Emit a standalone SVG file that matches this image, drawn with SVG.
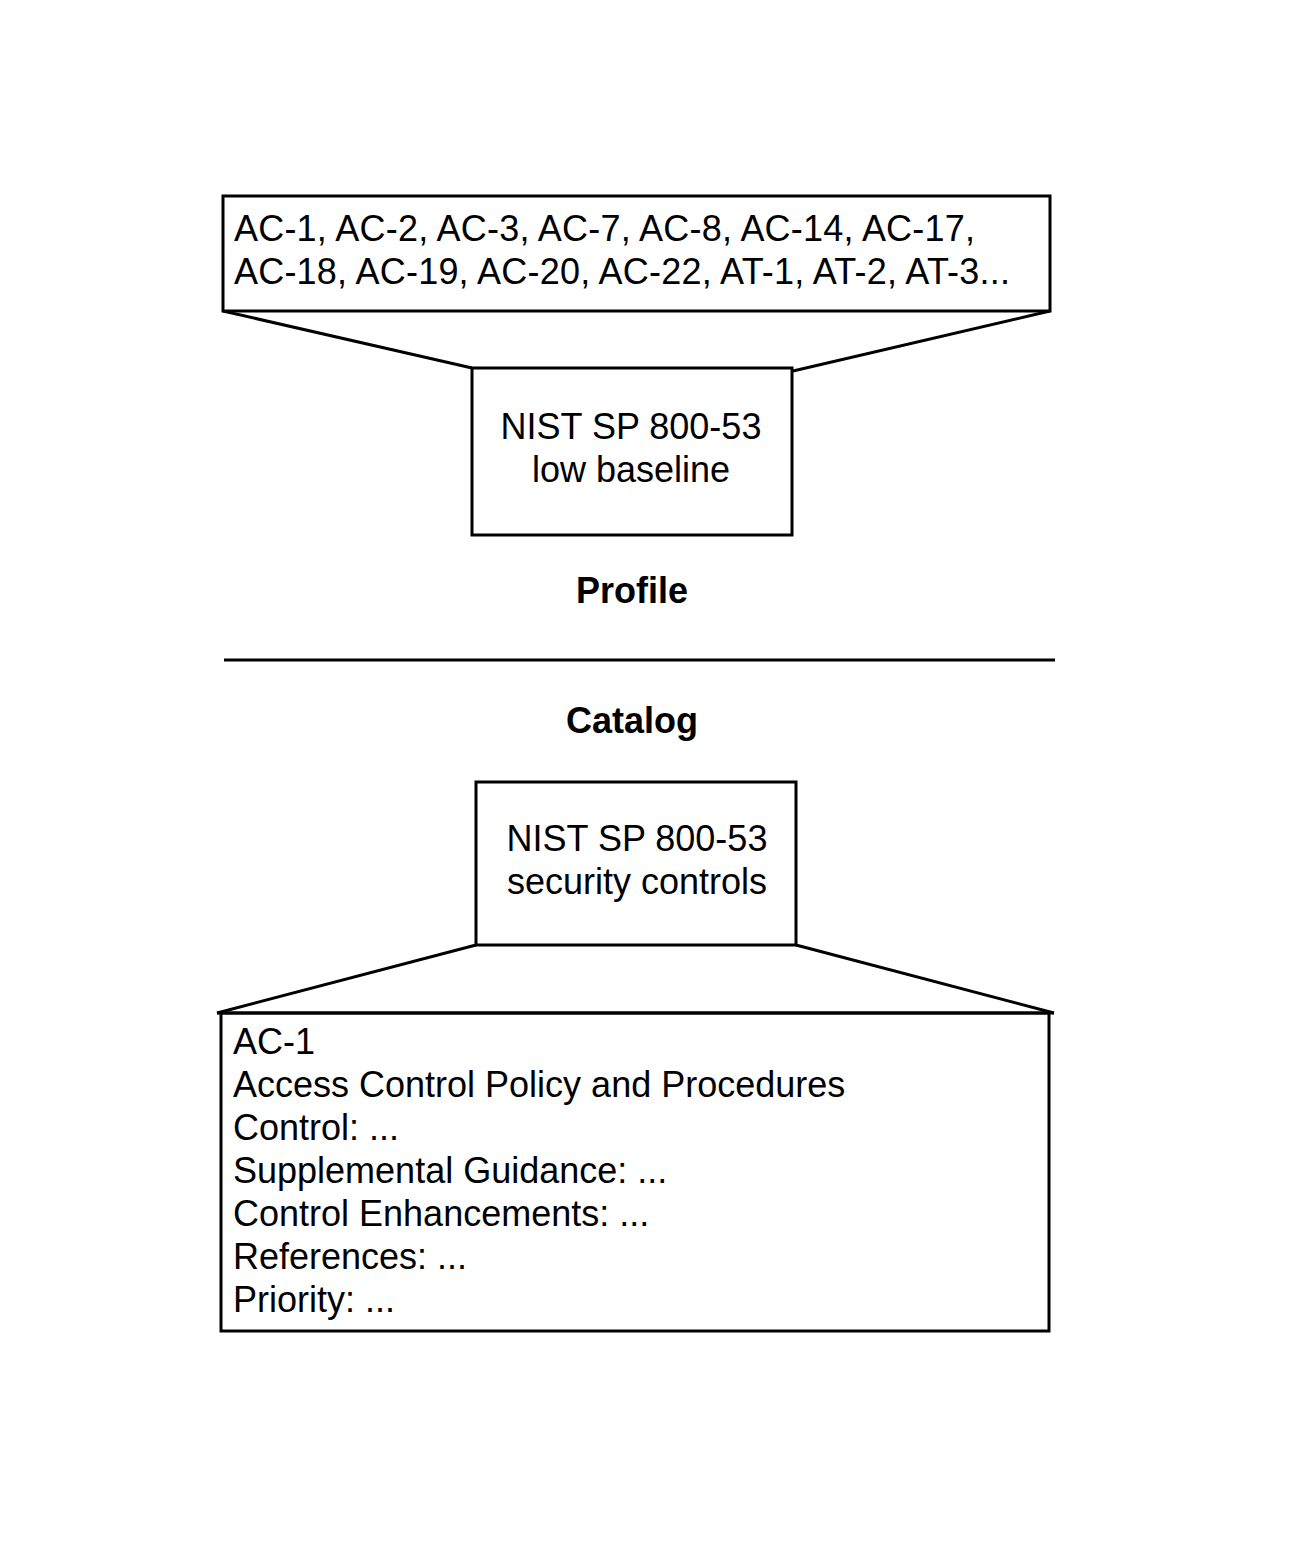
<svg xmlns="http://www.w3.org/2000/svg" width="1294" height="1542" viewBox="0 0 1294 1542">
<style>
.box{fill:#fff;stroke:#000;stroke-width:3}
.ln{stroke:#000;stroke-width:3;fill:none}
.t{font-family:"Liberation Sans",Arial,sans-serif;font-size:36px;fill:#000}
.c{text-anchor:middle}
.b{font-family:"Liberation Sans",Arial,sans-serif;font-size:36px;font-weight:bold;fill:#000;text-anchor:middle}
</style>
<rect width="1294" height="1542" fill="#fff"/>
<g id="connectors">
<line class="ln" x1="223" y1="311" x2="472" y2="368"/>
<line class="ln" x1="1050" y1="311" x2="793" y2="371"/>
<line class="ln" x1="476" y1="945" x2="217" y2="1013"/>
<line class="ln" x1="796" y1="945" x2="1054" y2="1013"/>
<line class="ln" x1="224" y1="660" x2="1055" y2="660"/>
</g>
<g id="profile-list">
<rect class="box" x="223" y="196" width="827" height="115"/>
<text class="t" x="234" y="241" textLength="741" lengthAdjust="spacing">AC-1, AC-2, AC-3, AC-7, AC-8, AC-14, AC-17,</text>
<text class="t" x="234" y="284" textLength="776" lengthAdjust="spacing">AC-18, AC-19, AC-20, AC-22, AT-1, AT-2, AT-3...</text>
</g>
<g id="low-baseline">
<rect class="box" x="472" y="368" width="320" height="167"/>
<text class="t c" x="631" y="439">NIST SP 800-53</text>
<text class="t c" x="631" y="482">low baseline</text>
</g>
<g id="profile-label">
<text class="b" x="632" y="603">Profile</text>
</g>
<g id="catalog-label">
<text class="b" x="632" y="733">Catalog</text>
</g>
<g id="security-controls">
<rect class="box" x="476" y="782" width="320" height="163"/>
<text class="t c" x="637" y="851">NIST SP 800-53</text>
<text class="t c" x="637" y="894">security controls</text>
</g>
<g id="ac1-detail">
<rect class="box" x="221" y="1013" width="828" height="318"/>
<line class="ln" x1="217" y1="1013" x2="1054" y2="1013"/>
<text class="t" x="233" y="1054">AC-1</text>
<text class="t" x="233" y="1097">Access Control Policy and Procedures</text>
<text class="t" x="233" y="1140">Control: ...</text>
<text class="t" x="233" y="1183">Supplemental Guidance: ...</text>
<text class="t" x="233" y="1226">Control Enhancements: ...</text>
<text class="t" x="233" y="1269">References: ...</text>
<text class="t" x="233" y="1312">Priority: ...</text>
</g>
</svg>
